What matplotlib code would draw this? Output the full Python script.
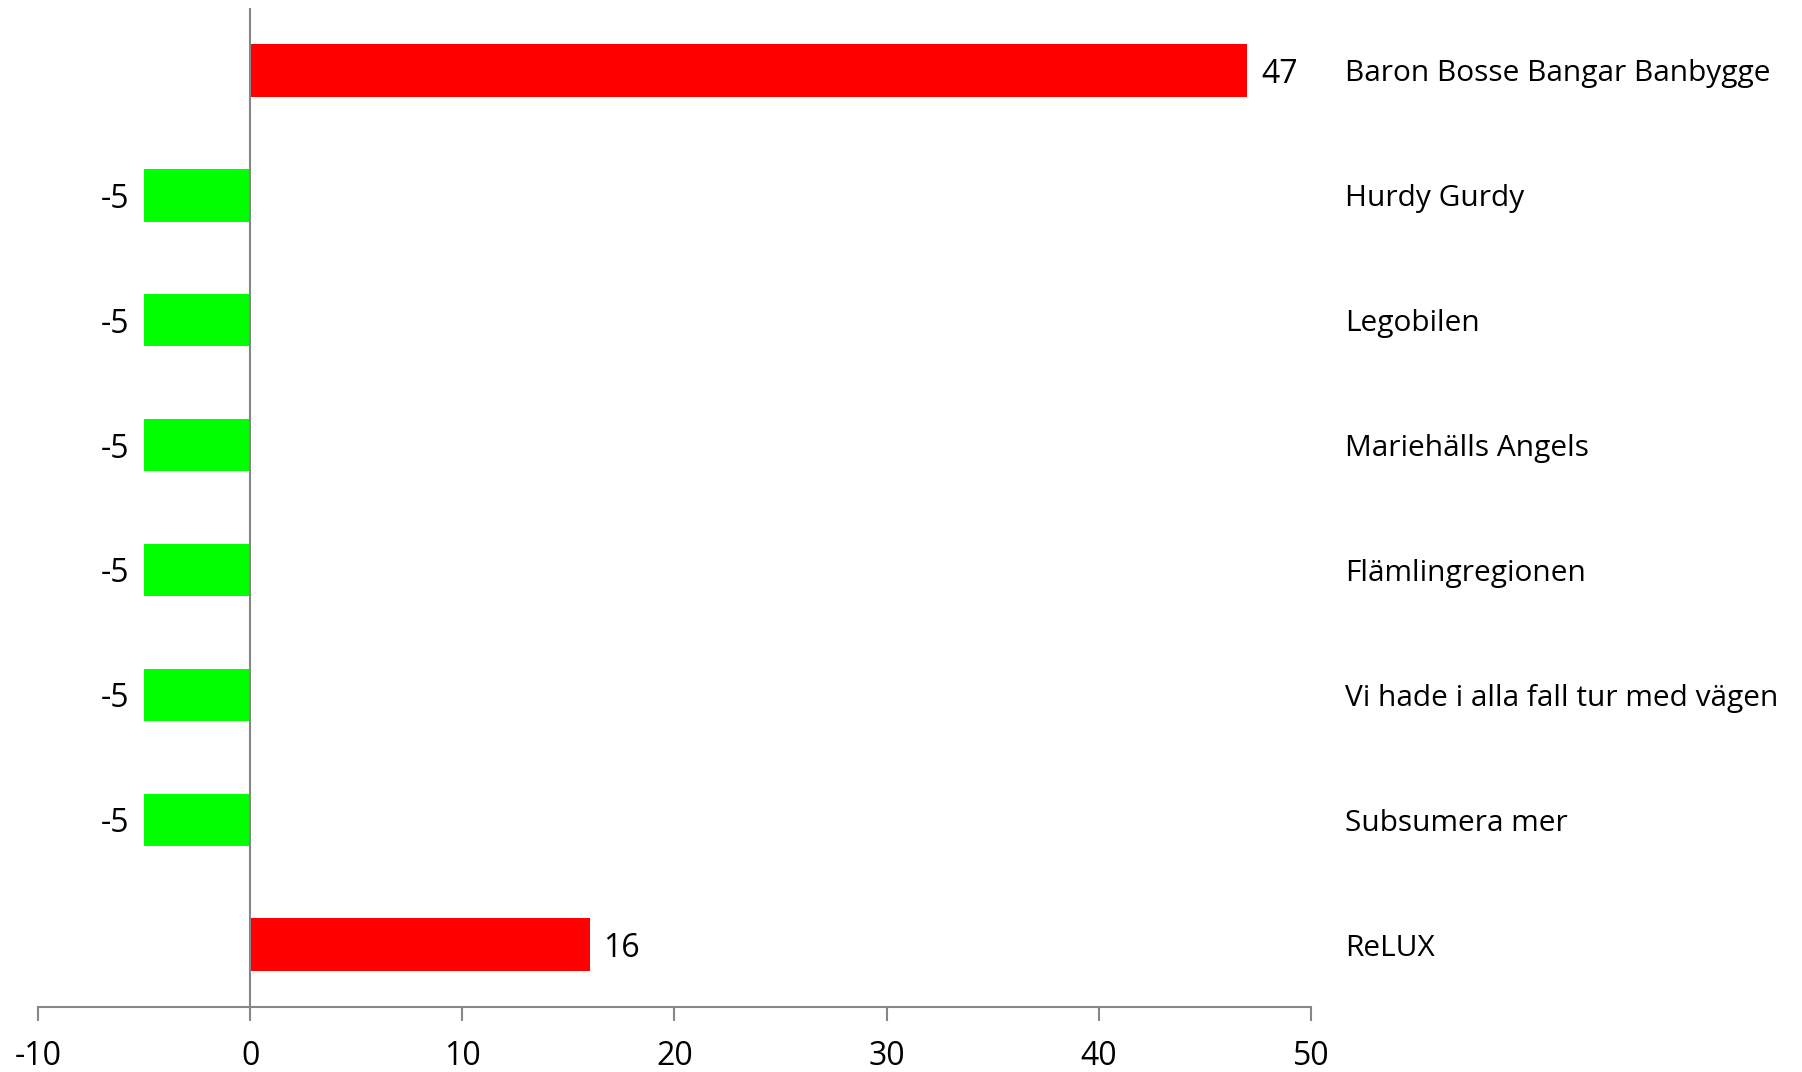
import matplotlib
matplotlib.use("Agg")
import matplotlib.pyplot as plt

teams = [
    "Baron Bosse Bangar Banbygge",
    "Hurdy Gurdy",
    "Legobilen",
    "Mariehälls Angels",
    "Flämlingregionen",
    "Vi hade i alla fall tur med vägen",
    "Subsumera mer",
    "ReLUX",
]
scores = [47, -5, -5, -5, -5, -5, -5, 16]
x_ticks = [-10, 0, 10, 20, 30, 40, 50]

GRAY = "#868686"

plt.rcParams["font.family"] = ["Open Sans", "DejaVu Sans"]

fig = plt.figure(figsize=(18.02, 10.72), dpi=100)
ax = fig.add_axes([0.0211, 0.0606, 0.7064, 0.9319])

colors = ["#FF0000" if v > 0 else "#00FF00" for v in scores]
ypos = list(range(len(teams)))
ax.barh(ypos, scores, height=0.42, color=colors, zorder=2)

ax.set_xlim(-10, 50)
ax.set_ylim(len(teams) - 0.5, -0.5)
ax.set_xticks(x_ticks)
ax.set_xticklabels([str(t) for t in x_ticks], fontsize=23)
ax.set_yticks([])
ax.tick_params(axis="x", direction="out", length=10, width=1.5, color=GRAY, pad=14)

for side in ["left", "right", "top"]:
    ax.spines[side].set_visible(False)
ax.spines["bottom"].set_color(GRAY)
ax.spines["bottom"].set_linewidth(1.5)
ax.axvline(0, color=GRAY, linewidth=1.5, zorder=3)

for y, v in zip(ypos, scores):
    if v >= 0:
        ax.annotate(str(v), (v, y), xytext=(10, 0), textcoords="offset points",
                    ha="left", va="center_baseline", fontsize=23)
    else:
        ax.annotate(str(v), (v, y), xytext=(-11, 0), textcoords="offset points",
                    ha="right", va="center_baseline", fontsize=23)

for y, name in zip(ypos, teams):
    ax.text(1.027, y, name, transform=ax.get_yaxis_transform(),
            ha="left", va="center_baseline", fontsize=21.5)

fig.savefig("out.png", dpi=100)
